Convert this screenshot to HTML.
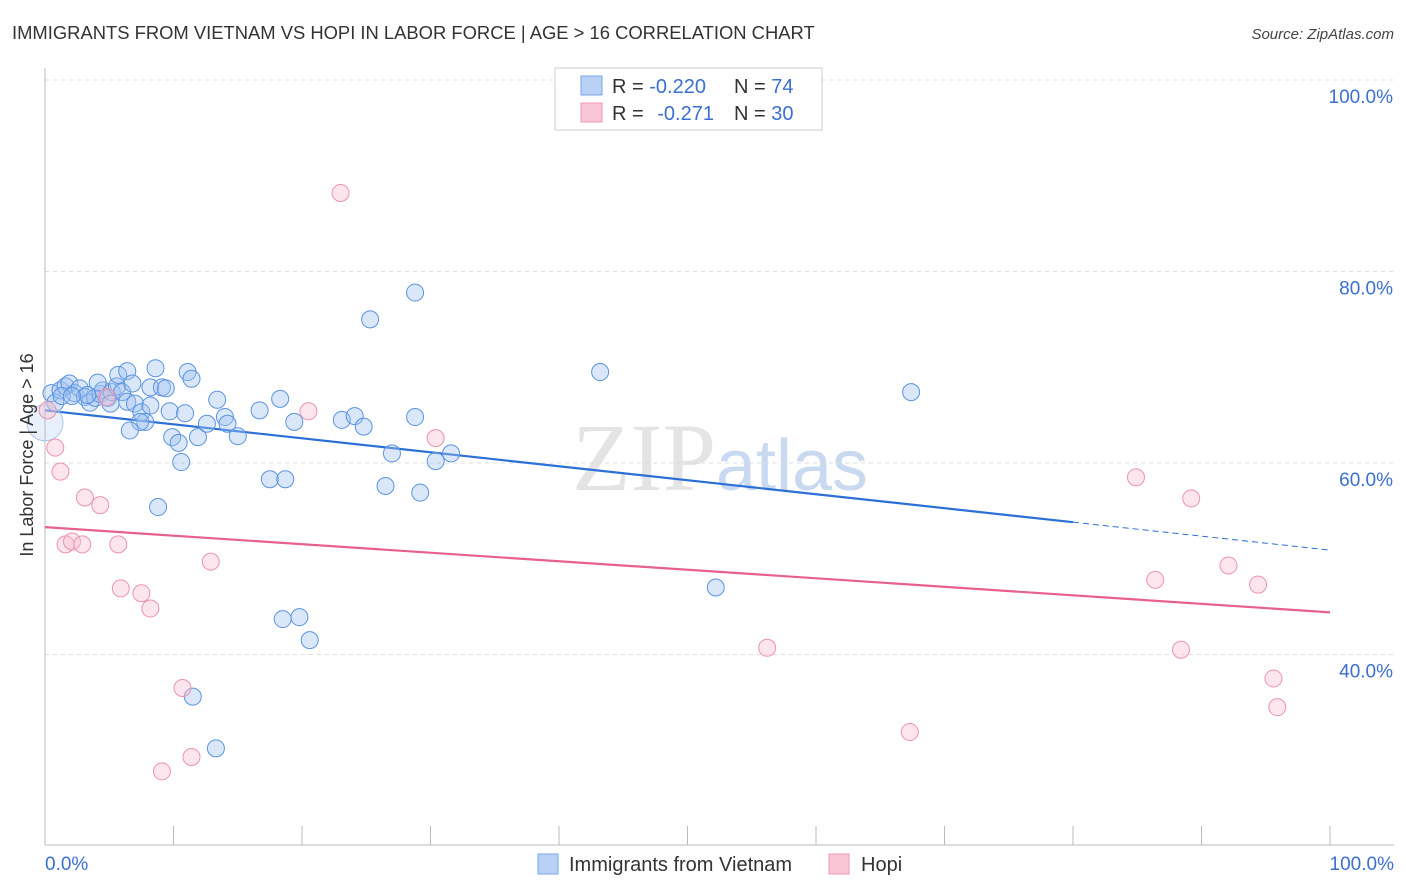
<!DOCTYPE html>
<html><head><meta charset="utf-8"><style>
body{margin:0;background:#fff;font-family:"Liberation Sans",sans-serif;}
svg{display:block}
</style></head><body>
<svg id="chart" width="1406" height="892" xmlns="http://www.w3.org/2000/svg">
<text x="12" y="39" font-size="18.4" fill="#333">IMMIGRANTS FROM VIETNAM VS HOPI IN LABOR FORCE | AGE &gt; 16 CORRELATION CHART</text>
<text x="1394" y="39" font-size="15" fill="#444" text-anchor="end" font-style="italic">Source: ZipAtlas.com</text>
<text x="720" y="490" font-size="96" fill="#e4e4e4" text-anchor="middle" font-family="Liberation Serif,serif">ZIP<tspan fill="#c9daf0" font-family="Liberation Sans,sans-serif" font-size="72">atlas</tspan></text>
<g id="grid"></g>
<g id="axes"></g>
<g id="lines"></g>
<g id="points"></g>
<text transform="translate(33,455) rotate(-90)" font-size="18" fill="#333" text-anchor="middle">In Labor Force | Age &gt; 16</text>
<text x="45" y="870" font-size="19" fill="#3b6fd1">0.0%</text>
<text x="1394" y="870" font-size="19" fill="#3b6fd1" text-anchor="end">100.0%</text>
<g>
<rect x="555" y="68" width="267" height="62" fill="#fff" stroke="#ccc"/>
<rect x="581" y="76" width="21" height="19" fill="#b8d1f5" stroke="#7aa6e8"/>
<rect x="581" y="103" width="21" height="19" fill="#f9c6d6" stroke="#ee9ab5"/>
<text x="612" y="93" font-size="20" fill="#333">R = <tspan fill="#3b6fd1">-0.220</tspan><tspan x="734">N = </tspan><tspan fill="#3b6fd1">74</tspan></text>
<text x="612" y="120" font-size="20" fill="#333">R = <tspan fill="#3b6fd1" dx="8">-0.271</tspan><tspan x="734">N = </tspan><tspan fill="#3b6fd1">30</tspan></text>
</g>
<g>
<rect x="538" y="854" width="20" height="20" fill="#b8d1f5" stroke="#7aa6e8"/>
<text x="569" y="871" font-size="20" fill="#333">Immigrants from Vietnam</text>
<rect x="829" y="854" width="20" height="20" fill="#f9c6d6" stroke="#ee9ab5"/>
<text x="861" y="871" font-size="20" fill="#333">Hopi</text>
</g>
</svg>
<script>
const yTicks=[100,80,60,40];
const yTickLabels=["100.0%","80.0%","60.0%","40.0%"];
const xTicks=[0,10,20,30,40,50,60,70,80,90,100];
const blueX=[0.5,0.8,1.2,1.6,1.9,2.3,2.7,3.1,3.5,3.9,4.3,4.5,4.9,5.2,5.6,6.0,6.4,7.0,7.5,7.8,7.4,6.6,5.7,6.4,8.6,8.2,9.1,8.2,9.7,9.9,10.4,10.6,8.8,11.1,11.4,10.9,11.9,12.6,13.4,14.0,14.2,15.0,16.7,17.5,18.7,18.3,19.4,18.5,19.8,20.6,11.5,13.3,23.1,24.1,24.8,25.3,26.5,27.0,28.8,28.8,29.2,30.4,31.6,43.2,52.2,67.4,0,1.3,3.3,5.1,4.1,2.1,6.8,9.4];
const blueY=[67.3,66.3,67.6,68.0,68.3,67.3,67.8,66.9,66.3,66.8,67.2,67.6,66.8,67.4,68.0,67.4,66.4,66.2,65.3,64.3,64.3,63.4,69.2,69.6,69.9,67.9,67.9,66.0,65.4,62.7,62.1,60.1,55.4,69.5,68.8,65.2,62.7,64.1,66.6,64.8,64.1,62.8,65.5,58.3,58.3,66.7,64.3,43.7,43.9,41.5,35.6,30.2,64.5,64.9,63.8,75.0,57.6,61.0,77.8,64.8,56.9,60.2,61.0,69.5,47.0,67.4,64.2,67.0,67.1,66.2,68.4,67.0,68.3,67.8];
const pinkX=[0.2,0.8,1.2,3.1,4.3,1.6,2.1,2.9,5.7,5.9,7.5,8.2,12.9,10.7,11.4,9.1,4.8,20.5,23.0,30.4,56.2,67.3,84.9,89.2,86.4,88.4,92.1,94.4,95.6,95.9];
const pinkY=[65.5,61.6,59.1,56.4,55.6,51.5,51.8,51.5,51.5,46.9,46.4,44.8,49.7,36.5,29.3,27.8,66.9,65.4,88.2,62.6,40.7,31.9,58.5,56.3,47.8,40.5,49.3,47.3,37.5,34.5];
const blueTrend=[65.5,50.9];
const pinkTrend=[53.3,44.4];
const blueSolidEnd=80;
const NS="http://www.w3.org/2000/svg";
const X0=45,X1=1330,Y100=80,PXPER=9.575;
function sx(v){return X0+(X1-X0)*v/100;}
function sy(v){return Y100+(100-v)*PXPER;}
function mk(tag,attrs,parent){const e=document.createElementNS(NS,tag);for(const k in attrs)e.setAttribute(k,attrs[k]);parent.appendChild(e);return e;}
const grid=document.getElementById('grid'),axes=document.getElementById('axes'),lines=document.getElementById('lines'),pts=document.getElementById('points');
yTicks.forEach((t,i)=>{
 const l=mk('line',{x1:45,x2:1394,y1:sy(t),y2:sy(t),stroke:'#ddd','stroke-dasharray':'4,4'},grid);
 
 
 const tx=mk('text',{x:1393,y:sy(t)+23,'font-size':19,fill:'#3b6fd1','text-anchor':'end'},grid);
 tx.textContent=yTickLabels[i];
 
 
});
const ax=mk('line',{x1:45,x2:45,y1:68,y2:845,stroke:'#bbb'},axes);


const bx=mk('line',{x1:45,x2:1394,y1:845,y2:845,stroke:'#bbb'},axes);


xTicks.forEach(t=>{
 const l=mk('line',{x1:sx(t),x2:sx(t),y1:826,y2:845,stroke:'#bbb'},axes);
 
 
});
function trendAt(tr,x){return tr[0]+(tr[1]-tr[0])*x/100;}
const bl=mk('line',{x1:sx(0),y1:sy(trendAt(blueTrend,0)),x2:sx(blueSolidEnd),y2:sy(trendAt(blueTrend,blueSolidEnd)),stroke:'#2c6fd6','stroke-width':2.2},lines);


const bd=mk('line',{x1:sx(blueSolidEnd),y1:sy(trendAt(blueTrend,blueSolidEnd)),x2:sx(100),y2:sy(trendAt(blueTrend,100)),stroke:'#2c6fd6','stroke-width':1,'stroke-dasharray':'6,4'},lines);


const pl=mk('line',{x1:sx(0),y1:sy(pinkTrend[0]),x2:sx(100),y2:sy(pinkTrend[1]),stroke:'#e8608d','stroke-width':2.2},lines);


blueX.forEach((x,i)=>{
 const big=(x===0);
 const c=mk('circle',{cx:sx(x),cy:sy(blueY[i]),r:big?18:8.5,fill:big?'rgba(160,195,240,0.25)':'rgba(160,195,240,0.4)',stroke:big?'#a9c6ee':'#5b93e0','stroke-width':1},pts);
 
 
});
pinkX.forEach((x,i)=>{
 const c=mk('circle',{cx:sx(x),cy:sy(pinkY[i]),r:8.5,fill:'rgba(248,190,208,0.4)',stroke:'#eb93b0','stroke-width':1},pts);
 
 
});
</script>
</body></html>
